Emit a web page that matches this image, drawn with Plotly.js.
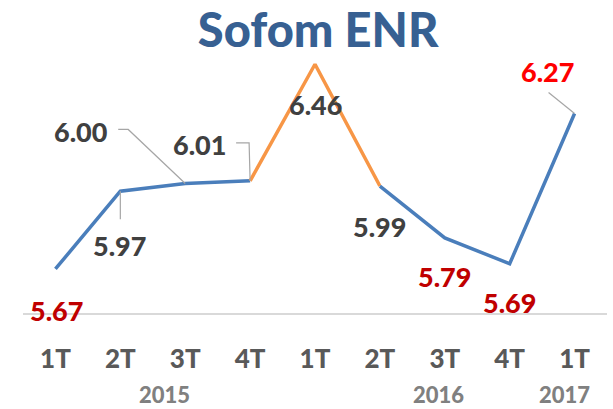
<!DOCTYPE html>
<html>
<head>
<meta charset="utf-8">
<script src="https://cdn.plot.ly/plotly-3.0.1.min.js"></script>
<style>html,body{margin:0;padding:0;background:#fff;}#chart{width:613px;height:409px;}</style>
</head>
<body>
<div id="chart"></div>
<script>
// ---- data ----
var quarters = ["1T","2T","3T","4T","1T","2T","3T","4T","1T"];
var years = ["2015","2016","2017"];
var yearPos = [1.68, 5.9, 7.84];
var values = [5.67, 5.97, 6.00, 6.01, 6.46, 5.99, 5.79, 5.69, 6.27];
var labelColors = ["#C00000","#404040","#404040","#404040","#404040","#404040","#C00000","#C00000","#FF0000"];
var orangeStart = 3, orangeEnd = 5;

var idx = quarters.map(function(_, i){ return i; });
function seg(a, b){ return {x: idx.slice(a, b+1), y: values.slice(a, b+1)}; }

var blue = "#4A7EBB", orange = "#F79646";
var s1 = seg(0, orangeStart), s2 = seg(orangeStart, orangeEnd), s3 = seg(orangeEnd, values.length-1);
var traces = [
  {x: s1.x, y: s1.y, type:"scatter", mode:"lines", line:{color:blue, width:3.5}, hoverinfo:"skip"},
  {x: s2.x, y: s2.y, type:"scatter", mode:"lines", line:{color:orange, width:3.5}, hoverinfo:"skip"},
  {x: s3.x, y: s3.y, type:"scatter", mode:"lines", line:{color:blue, width:3.5}, hoverinfo:"skip"}
];

// label offsets in pixels (dx right, dy up) relative to point
var offs = [[1,-42],[-1,-54],[-104,52],[-51,36],[0,-40],[0,-40],[0,-39],[0,-39],[-27,42]];
var annotations = values.map(function(v, i){
  return {x: i, y: v, xref:"x", yref:"y", text: v.toFixed(2), showarrow:false,
          xshift: offs[i][0], yshift: offs[i][1],
          font:{family:"Lato", size:27, color: labelColors[i], weight:900}};
});
years.forEach(function(yr, i){
  annotations.push({x: yearPos[i], y: -0.287, xref:"x", yref:"paper", text: yr, showarrow:false,
    yanchor:"middle", font:{family:"Lato", size:22, color:"#808080", weight:900}});
});

// leader lines (pixel paths anchored at data points)
var leaders = {1:"M0,0 L0,-28", 2:"M0,0 L-57,54 L-67,54", 3:"M0,0 L-1,38 L-14,38", 8:"M0,0 L-26,21"};
var shapes = Object.keys(leaders).map(function(k){
  var i = +k;
  return {type:"path", xref:"x", yref:"y", xsizemode:"pixel", ysizemode:"pixel",
          xanchor: i, yanchor: values[i], path: leaders[k],
          line:{color:"#A6A6A6", width:1.2}};
});

var layout = {
  width:613, height:409,
  margin:{l:23, r:5.5, t:27.5, b:96},
  paper_bgcolor:"#fff", plot_bgcolor:"#fff",
  showlegend:false,
  title:{text:"Sofom ENR", font:{family:"Lato", size:47, color:"#376092", weight:900},
         x:0.519, xanchor:"center", xref:"container", y:1-31/409, yref:"container", yanchor:"middle"},
  xaxis:{range:[-0.5, 8.5], tickvals: idx, ticktext: quarters, showgrid:false, zeroline:false,
         showline:true, linecolor:"#D9D9D9", linewidth:1.5, ticks:"", ticklabelstandoff:22,
         tickfont:{family:"Lato", size:26, color:"#595959", weight:900}, fixedrange:true},
  yaxis:{range:[5.5, 6.6], visible:false, fixedrange:true},
  annotations: annotations,
  shapes: shapes
};
Plotly.newPlot("chart", traces, layout, {displayModeBar:false, staticPlot:true});
</script>
</body>
</html>
